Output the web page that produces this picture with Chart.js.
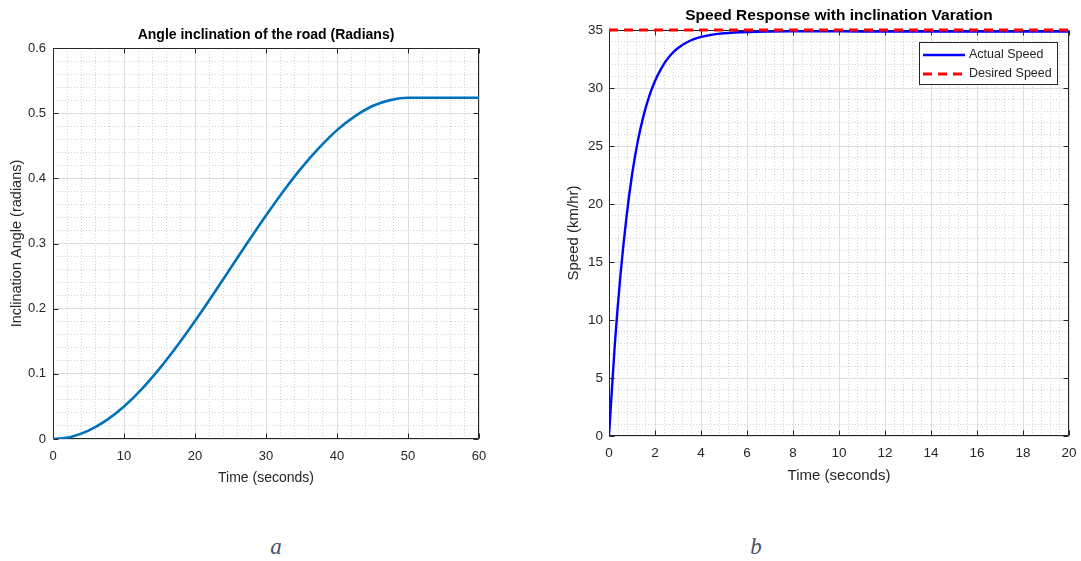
<!DOCTYPE html>
<html><head><meta charset="utf-8">
<script src="https://cdn.jsdelivr.net/npm/chart.js@4.4.0/dist/chart.umd.min.js"></script>
<style>
html,body{margin:0;padding:0;background:#fff;width:1081px;height:561px;overflow:hidden}
#ca{position:absolute;left:0;top:0}
#cb{position:absolute;left:540px;top:0}
.lbl{position:absolute;font-family:"Liberation Serif","DejaVu Serif",serif;font-style:italic;font-size:23px;color:#44546a;transform:translate(-50%,-50%)}
</style></head><body>
<canvas id="ca" width="540" height="500"></canvas>
<canvas id="cb" width="541" height="500"></canvas>
<div class="lbl" style="left:276px;top:547px">a</div>
<div class="lbl" style="left:756px;top:547px">b</div>
<script>
// ---- Chart a: road inclination ----
const timeA = [0, 2.5, 5, 7.5, 10, 12.5, 15, 17.5, 20, 22.5, 25, 27.5, 30, 32.5, 35, 37.5, 40, 42.5, 45, 47.5, 50, 52.5, 55, 57.5, 60];
const angleA = [0, 0.0032, 0.0128, 0.0285, 0.050, 0.0767, 0.108, 0.143, 0.181, 0.221, 0.262, 0.303, 0.343, 0.381, 0.416, 0.447, 0.474, 0.495, 0.511, 0.520, 0.5236, 0.5236, 0.5236, 0.5236, 0.5236];
const xTicksA = [0, 10, 20, 30, 40, 50, 60];
const yTicksA = [0, 0.1, 0.2, 0.3, 0.4, 0.5, 0.6];

// ---- Chart b: speed response ----
const timeB = [0, 0.05, 0.25, 0.5, 0.75, 1, 1.25, 1.5, 1.75, 2, 2.25, 2.5, 2.75, 3, 3.5, 4, 4.5, 5, 6, 7, 8, 10, 12, 14, 16, 18, 20];
const actualSpeed = [0, 1.6, 7.8, 13.9, 18.7, 22.5, 25.4, 27.6, 29.3, 30.6, 31.6, 32.4, 33.0, 33.45, 34.05, 34.4, 34.6, 34.72, 34.83, 34.87, 34.88, 34.88, 34.87, 34.87, 34.87, 34.87, 34.87];
const desiredTime = [0, 20];
const desiredSpeed = [35, 35];
const xTicksB = [0, 2, 4, 6, 8, 10, 12, 14, 16, 18, 20];
const yTicksB = [0, 5, 10, 15, 20, 25, 30, 35];

const FONT = '"Liberation Sans", Arial, Helvetica, sans-serif';
const TXT = '#262626';

function isMajor(v, majors) { return majors.some(m => Math.abs(m - v) < 1e-6); }
function pts(xs, ys) { return xs.map((x, i) => ({x: x, y: ys[i]})); }

function makeScale(c) {
  return {
    type: 'linear', min: c.majors[0], max: c.majors[c.majors.length - 1],
    afterFit: s => {
      if (c.horizontal) { s.height = c.size; s.paddingLeft = 0; s.paddingRight = 0; }
      else { s.width = c.size; s.paddingTop = 0; s.paddingBottom = 0; }
    },
    ticks: {
      stepSize: c.step, autoSkip: false, maxRotation: 0, minRotation: 0, maxTicksLimit: 1000,
      padding: c.tickPad, color: TXT, font: {family: FONT, size: c.tickSize, lineHeight: 1.2},
      callback: v => { const m = c.majors.find(mm => Math.abs(mm - v) < 1e-6); return m === undefined ? '' : String(m); }
    },
    grid: {
      drawTicks: false, lineWidth: 1,
      color: ctx => (ctx.tick && !isMajor(ctx.tick.value, c.majors)) ? '#d2d2d2' : '#dedede'
    },
    border: {
      display: false,
      dash: ctx => (ctx.tick && !isMajor(ctx.tick.value, c.majors)) ? [1, 2] : []
    },
    title: {
      display: true, text: c.title, color: TXT,
      font: {family: FONT, size: c.titleSize, lineHeight: 1.2}, padding: c.titlePad
    }
  };
}

const boxPlugin = {
  id: 'matlabBox',
  beforeDatasetsDraw(chart, args, opts) {
    const {ctx, chartArea: a, scales} = chart;
    const L = Math.round(a.left) + 0.5, R = Math.round(a.right) - 0.5;
    const T = Math.round(a.top) + 0.5, B = Math.round(a.bottom) - 0.5;
    ctx.save();
    ctx.strokeStyle = TXT; ctx.lineWidth = 1; ctx.setLineDash([]);
    ctx.beginPath();
    ctx.rect(L, T, R - L, B - T);
    const tl = 5;
    opts.xMajors.forEach(v => {
      const p = Math.round(scales.x.getPixelForValue(v)) + 0.5;
      ctx.moveTo(p, B); ctx.lineTo(p, B - tl);
      ctx.moveTo(p, T); ctx.lineTo(p, T + tl);
    });
    opts.yMajors.forEach(v => {
      const p = Math.round(scales.y.getPixelForValue(v)) + 0.5;
      ctx.moveTo(L, p); ctx.lineTo(L + tl, p);
      ctx.moveTo(R, p); ctx.lineTo(R - tl, p);
    });
    ctx.stroke();
    ctx.restore();
  }
};

const legendBoxPlugin = {
  id: 'legendBox',
  afterDraw(chart, args, opts) {
    if (!opts.show) return;
    const {ctx} = chart;
    const x0 = opts.x, y0 = opts.y, w = opts.w, h = opts.h;
    ctx.save();
    ctx.fillStyle = '#ffffff';
    ctx.fillRect(x0, y0, w, h);
    ctx.strokeStyle = TXT; ctx.lineWidth = 1; ctx.setLineDash([]);
    ctx.strokeRect(x0 + 0.5, y0 + 0.5, w - 1, h - 1);
    ctx.font = opts.fontSize + 'px ' + FONT;
    ctx.textBaseline = 'middle'; ctx.textAlign = 'left';
    chart.data.datasets.forEach((ds, i) => {
      const yy = y0 + opts.rowY[i];
      ctx.strokeStyle = ds.borderColor;
      ctx.lineWidth = ds.borderWidth;
      ctx.setLineDash(ds.borderDash || []);
      ctx.beginPath();
      ctx.moveTo(x0 + 4, yy); ctx.lineTo(x0 + 46, yy);
      ctx.stroke();
      ctx.setLineDash([]);
      ctx.fillStyle = TXT;
      ctx.fillText(ds.label, x0 + 50, yy);
    });
    ctx.restore();
  }
};

Chart.register(boxPlugin, legendBoxPlugin);

new Chart(document.getElementById('ca'), {
  type: 'line',
  data: { datasets: [{
    label: 'Inclination Angle', data: pts(timeA, angleA),
    borderColor: '#0072BD', borderWidth: 2.6, pointRadius: 0,
    cubicInterpolationMode: 'monotone', fill: false
  }]},
  options: {
    responsive: false, animation: false,
    layout: { padding: {left: 0, right: 61, top: 0, bottom: 0} },
    plugins: {
      legend: {display: false}, tooltip: {enabled: false},
      title: { display: true, fullSize: false, text: 'Angle inclination of the road (Radians)', color: '#000',
        font: {family: FONT, size: 14, weight: 'bold', lineHeight: 1.2}, padding: {top: 26.6, bottom: 4.6} },
      matlabBox: { xMajors: xTicksA, yMajors: yTicksA },
      legendBox: { show: false }
    },
    scales: {
      x: makeScale({horizontal: true, majors: xTicksA, step: 2, size: 61, tickPad: 10, tickSize: 13,
        title: 'Time (seconds)', titleSize: 14, titlePad: {top: 0, bottom: 13.6}}),
      y: makeScale({horizontal: false, majors: yTicksA, step: 0.02, size: 53, tickPad: 7, tickSize: 13,
        title: 'Inclination Angle (radians)', titleSize: 14.5, titlePad: {top: 8.3, bottom: 0}})
    }
  }
});

new Chart(document.getElementById('cb'), {
  type: 'line',
  data: { datasets: [{
    label: 'Actual Speed', data: pts(timeB, actualSpeed),
    borderColor: '#0000FF', borderWidth: 2.4, pointRadius: 0,
    cubicInterpolationMode: 'monotone', fill: false, order: 1
  }, {
    label: 'Desired Speed', data: pts(desiredTime, desiredSpeed),
    borderColor: '#FF0000', borderWidth: 3, borderDash: [9, 6], pointRadius: 0,
    fill: false, clip: false, order: 0
  }]},
  options: {
    responsive: false, animation: false,
    layout: { padding: {left: 0, right: 12, top: 0, bottom: 0} },
    plugins: {
      legend: {display: false}, tooltip: {enabled: false},
      title: { display: true, fullSize: false, text: 'Speed Response with inclination Varation', color: '#000',
        font: {family: FONT, size: 15.5, weight: 'bold', lineHeight: 1.2}, padding: {top: 6.7, bottom: 4.7} },
      matlabBox: { xMajors: xTicksB, yMajors: yTicksB },
      legendBox: { show: true, x: 379, y: 42, w: 139, h: 43, rowY: [13, 32], fontSize: 12.5 }
    },
    scales: {
      x: makeScale({horizontal: true, majors: xTicksB, step: 0.4, size: 64, tickPad: 9, tickSize: 13.5,
        title: 'Time (seconds)', titleSize: 15, titlePad: {top: 0, bottom: 15}}),
      y: makeScale({horizontal: false, majors: yTicksB, step: 1, size: 69, tickPad: 6, tickSize: 13.5,
        title: 'Speed (km/hr)', titleSize: 15, titlePad: {top: 25, bottom: 0}})
    }
  }
});
</script>
</body></html>
